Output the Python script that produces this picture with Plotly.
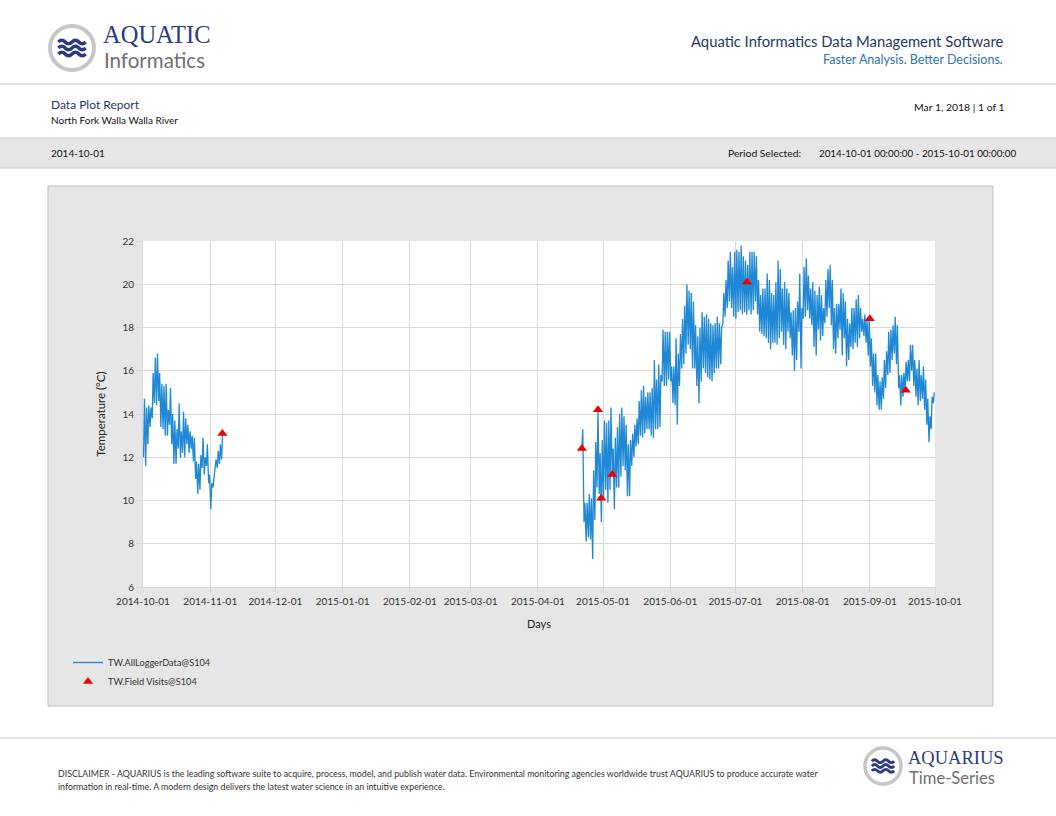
import pandas as pd
import plotly.graph_objects as go

W, H = 1056, 816
FONT = "Lato"
SERIF = "Liberation Serif"
NAVY = "#2b3a82"

# ---- logger data: daily low / high (deg C) ----
# segment 1: 2014-10-01 .. 2014-11-06
lo_fall = [12.0, 11.6, 12.6, 13.4, 13.8, 14.5, 14.4, 14.6, 13.4, 13.3,
           13.0, 13.0, 13.5, 12.6, 11.7, 11.7, 12.4, 12.0, 12.2, 12.0,
           12.6, 12.2, 12.4, 11.8, 11.0, 10.3, 10.5, 11.5, 11.2, 11.6,
           10.8, 9.6, 10.6, 11.4, 11.5, 11.7, 11.9]
hi_fall = [14.7, 14.3, 14.4, 14.3, 15.9, 16.6, 16.8, 15.9, 15.4, 15.3,
           15.4, 14.2, 15.2, 14.0, 13.7, 13.3, 14.5, 13.2, 14.1, 13.8,
           13.5, 13.2, 13.0, 12.9, 11.8, 11.7, 12.1, 12.9, 12.0, 12.6,
           11.2, 10.8, 11.0, 11.9, 12.3, 12.6, 13.1]

# segment 2: 2015-04-21 .. 2015-09-30
lo_apr = [12.4, 9.0, 8.1, 8.3, 8.2, 7.3, 9.1, 10.6, 10.3, 9.0]
hi_apr = [13.3, 9.9, 9.9, 10.3, 10.1, 11.4, 12.7, 14.2, 12.2, 12.8]
lo_may = [10.1, 10.5, 9.9, 10.5, 11.2, 9.6, 10.6, 10.6, 11.1, 11.6,
          11.4, 10.2, 10.2, 11.6, 12.0, 12.5, 12.6, 13.0, 12.9, 13.1,
          13.3, 13.3, 13.0, 12.9, 13.3, 13.3, 13.4, 15.5, 15.3, 15.3, 15.6]
hi_may = [13.7, 13.6, 13.7, 14.3, 12.4, 12.9, 13.4, 14.0, 14.3, 13.9,
          13.5, 12.6, 12.8, 13.1, 13.5, 13.8, 14.6, 15.1, 15.3, 14.8,
          15.0, 15.0, 15.2, 16.5, 15.6, 16.3, 15.8, 17.9, 17.8, 17.8, 17.8]
lo_jun = [15.5, 14.5, 14.4, 13.5, 15.3, 16.1, 16.3, 16.8, 17.2, 17.0,
          16.1, 16.1, 15.3, 14.5, 15.5, 16.1, 15.9, 15.7, 15.6, 15.5,
          15.9, 16.1, 16.1, 16.3, 18.2, 18.5, 18.9, 19.2, 18.9, 18.5]
hi_jun = [16.2, 16.2, 17.5, 16.8, 17.7, 18.4, 19.0, 20.0, 19.7, 19.6,
          19.2, 18.1, 17.6, 18.0, 18.7, 18.5, 18.6, 18.4, 18.2, 18.1,
          18.2, 18.5, 18.2, 18.0, 19.6, 20.2, 21.1, 21.5, 20.8, 21.5]
lo_jul = [18.4, 18.7, 18.8, 18.6, 18.7, 18.6, 18.8, 18.6, 18.8, 19.2,
          18.6, 17.8, 17.7, 17.6, 17.5, 17.3, 17.0, 17.3, 17.3, 17.2,
          17.5, 17.8, 17.2, 17.0, 17.8, 17.5, 16.7, 16.0, 16.5, 17.8, 16.1]
hi_jul = [21.6, 21.5, 21.8, 21.3, 21.1, 20.9, 21.5, 21.5, 21.5, 21.3,
          20.2, 19.5, 19.8, 19.8, 20.5, 20.2, 19.6, 19.5, 20.1, 21.1,
          20.7, 19.8, 20.1, 19.8, 19.6, 18.7, 18.8, 18.9, 19.2, 20.5, 18.9]
lo_aug = [18.4, 18.5, 18.8, 18.4, 18.1, 17.1, 16.7, 17.9, 17.4, 17.6,
          18.2, 18.5, 18.9, 18.1, 17.0, 16.8, 17.5, 17.9, 16.7, 17.5,
          16.2, 16.5, 17.1, 17.0, 17.3, 17.1, 17.5, 17.8, 17.6, 17.3, 16.7]
hi_aug = [20.8, 21.2, 20.4, 19.8, 20.1, 19.7, 19.5, 19.9, 19.5, 18.9,
          20.2, 20.7, 20.9, 20.2, 18.9, 19.1, 19.1, 19.8, 19.6, 19.2,
          18.4, 18.2, 18.9, 18.9, 19.3, 19.5, 18.9, 18.4, 18.6, 18.4, 18.4]
lo_sep = [16.2, 15.3, 15.0, 14.4, 14.2, 14.2, 14.7, 15.2, 15.8, 15.9,
          16.5, 16.8, 16.3, 15.2, 14.4, 14.8, 15.1, 15.5, 15.5, 16.0,
          15.3, 14.8, 14.4, 14.6, 14.7, 14.2, 13.5, 12.7, 13.3, 14.5]
hi_sep = [17.5, 16.8, 16.8, 15.8, 15.5, 15.7, 16.5, 16.9, 17.8, 17.9,
          18.1, 18.5, 18.1, 15.8, 15.8, 15.9, 16.4, 16.5, 17.2, 17.2,
          16.5, 16.1, 16.5, 15.8, 16.2, 15.6, 14.7, 13.9, 14.8, 15.0]

# field visits
fv_time = ["2014-11-06 14:00", "2015-04-21 06:00", "2015-04-28 16:00",
           "2015-04-30 04:00", "2015-05-05 06:00", "2015-07-06 10:00",
           "2015-08-31 22:00", "2015-09-17 12:00"]
fv_temp = [13.1, 12.4, 14.2, 10.1, 11.2, 20.1, 18.4, 15.1]

month_ticks = pd.date_range("2014-10-01", "2015-10-01", freq="MS")


def px(x):
    return x / W


def py(y):
    return 1 - y / H


def daily(start, lows, highs):
    xs, ys = [], []
    for d, lo, hi in zip(pd.date_range(start, periods=len(lows), freq="D"), lows, highs):
        xs += [d + pd.Timedelta(hours=6), d + pd.Timedelta(hours=16)]
        ys += [lo, hi]
    return xs, ys


x1, y1 = daily("2014-10-01", lo_fall, hi_fall)
lo2 = lo_apr + lo_may + lo_jun + lo_jul + lo_aug + lo_sep
hi2 = hi_apr + hi_may + hi_jun + hi_jul + hi_aug + hi_sep
x2, y2 = daily("2015-04-21", lo2, hi2)

fig = go.Figure()
fig.add_trace(go.Scatter(x=x1 + [None] + x2, y=y1 + [None] + y2, mode="lines",
                         line=dict(color="#1f88d6", width=1.3),
                         name="TW.AllLoggerData@S104"))
fig.add_trace(go.Scatter(x=fv_time, y=fv_temp, mode="markers",
                         marker=dict(symbol="triangle-up", color="#ee0000", size=9),
                         name="TW.Field Visits@S104"))


def rect(x0, y0, x1, y1, fill, line="rgba(0,0,0,0)", width=1):
    fig.add_shape(type="rect", xref="paper", yref="paper", layer="below",
                  x0=px(x0), x1=px(x1), y0=py(y1), y1=py(y0),
                  fillcolor=fill, line=dict(color=line, width=width))


def hline(y, x0=0, x1=W, color="#c8c8c8"):
    fig.add_shape(type="line", xref="paper", yref="paper", x0=px(x0), x1=px(x1),
                  y0=py(y), y1=py(y), line=dict(color=color, width=1.2))


def note(text, x, y, size, color="#222", anchor="left", family=FONT):
    fig.add_annotation(text=text, x=px(x), y=py(y), xref="paper", yref="paper",
                       xanchor=anchor, yanchor="middle", showarrow=False,
                       font=dict(family=family, size=size, color=color))


def logo(cx, cy, r, ring):
    fig.add_shape(type="circle", xref="paper", yref="paper",
                  x0=px(cx - r), x1=px(cx + r), y0=py(cy + r), y1=py(cy - r),
                  fillcolor="white", line=dict(color="#c6c6c6", width=ring))
    half = r * 0.62
    amp = r * 0.08
    for k in (-1, 0, 1):
        yc = cy + k * r * 0.27
        n = 4
        seg = 2 * half / n
        d = f"M {px(cx - half)},{py(yc)}"
        for i in range(n):
            xa = cx - half + i * seg
            s = -1 if i % 2 == 0 else 1
            d += f" Q {px(xa + seg / 2)},{py(yc + s * amp * 2)} {px(xa + seg)},{py(yc)}"
        fig.add_shape(type="path", xref="paper", yref="paper", path=d,
                      line=dict(color=NAVY, width=r * 0.16))


# header
logo(72, 48, 22, 4)
note("AQUATIC", 101, 35, 24.5, NAVY, family=SERIF)
note("Informatics", 102, 60, 20.5, "#707070")
note("Aquatic Informatics Data Management Software", 1005, 41, 14.8, "#1f3864", "right")
note("Faster Analysis. Better Decisions.", 1005, 60, 12.5, "#2e75b6", "right")
hline(84)
note("Data Plot Report", 49, 105, 12, "#1f3864")
note("North Fork Walla Walla River", 49, 120, 10, "#111")
note("Mar 1, 2018 | 1 of 1", 1007, 107, 10.4, "#111", "right")
rect(-2, 138, W + 2, 168, "#e6e6e6", "#c8c8c8", 1.2)
note("2014-10-01", 49, 153, 10, "#111")
note("Period Selected:", 803, 153, 10.3, "#111", "right")
note("2014-10-01 00:00:00 - 2015-10-01 00:00:00", 817, 153, 9.8, "#111")

# chart frame
rect(48, 186, 993, 706, "#e6e6e6", "#c0c0c0", 1)
rect(143, 241, 935, 587, "white")

# footer
hline(738)
note("DISCLAIMER - AQUARIUS is the leading software suite to acquire, process, model, and "
     "publish water data. Environmental monitoring agencies worldwide trust AQUARIUS to produce "
     "accurate water", 56, 773, 8.8, "#333")
note("information in real-time. A modern design delivers the latest water science in an "
     "intuitive experience.", 56, 786, 8.8, "#333")
logo(883, 766, 18, 3.5)
note("AQUARIUS", 906, 758, 18.5, NAVY, family=SERIF)
note("Time-Series", 907, 778, 16.6, "#707070")

fig.update_xaxes(domain=[px(143), px(935)], type="date",
                 range=["2014-10-01", "2015-10-01"],
                 tickvals=month_ticks, tickformat="%Y-%m-%d",
                 tickfont=dict(size=10, color="#333"),
                 gridcolor="#d9d9d9", showline=True, linecolor="#d9d9d9",
                 ticks="outside", ticklen=5, tickcolor="#d9d9d9",
                 zeroline=False, automargin=False,
                 title=dict(text="Days", font=dict(size=11, color="#222"), standoff=14))
fig.update_yaxes(domain=[py(587), py(241)], range=[6, 22], dtick=2,
                 tickfont=dict(size=10, color="#333"),
                 gridcolor="#d9d9d9", showline=True, linecolor="#d9d9d9",
                 ticks="outside", ticklen=6, tickcolor="#d9d9d9",
                 zeroline=False, automargin=False,
                 title=dict(text="Temperature (°C)", font=dict(size=11.5, color="#222"), standoff=14))

fig.update_layout(width=W, height=H, margin=dict(l=0, r=0, t=0, b=0),
                  paper_bgcolor="white", plot_bgcolor="white",
                  font=dict(family=FONT, size=10, color="#333"),
                  legend=dict(x=px(68), y=py(648), xanchor="left", yanchor="top",
                              bgcolor="rgba(0,0,0,0)", font=dict(size=9.2, color="#333"),
                              itemwidth=30, tracegroupgap=0))

# drop the default 8px page margin so the figure fills the window exactly
fig.write_html("out.html", config={"displayModeBar": False},
               post_script="document.body.style.margin='0';")
